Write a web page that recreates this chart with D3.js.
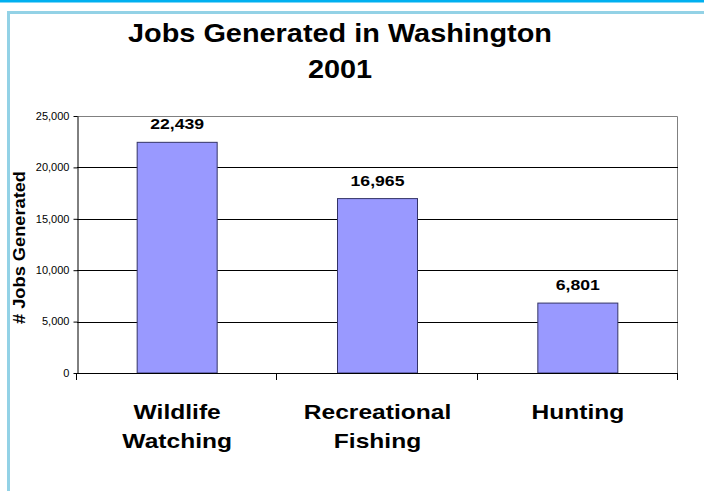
<!DOCTYPE html>
<html>
<head>
<meta charset="utf-8">
<script src="https://cdn.jsdelivr.net/npm/d3@7"></script>
<style>
  body { margin: 0; background: #fff; }
  svg { display: block; font-family: "Liberation Sans", Arial, sans-serif; }
</style>
</head>
<body>
<svg id="canvas" width="704" height="491"></svg>
<script>
'use strict';

/* values */
const categories = ['Wildlife Watching', 'Recreational Fishing', 'Hunting'];
const categoryLines = [['Wildlife', 'Watching'], ['Recreational', 'Fishing'], ['Hunting']];
const jobs = [22439, 16965, 6801];
const yTicks = [0, 5000, 10000, 15000, 20000, 25000];
const titleLines = ['Jobs Generated in Washington', '2001'];
const yTitle = '# Jobs Generated';

const FONT = '"Liberation Sans", Arial, sans-serif';
const svg = d3.select('svg#canvas');
const plot = {left: 77, right: 678, top: 116, bottom: 373};
/* the original glyphs are drawn a bit wider than Liberation Sans */
const WIDE = 1.26;

/* page decoration: top blue rule and light blue frame */
svg.append('rect').attr('x', 0).attr('y', 0).attr('width', 704).attr('height', 2.5)
  .attr('fill', '#00b0f0');
svg.append('path')
  .attr('d', 'M8.5,491 V12.5 H704')
  .attr('fill', 'none').attr('stroke', '#93d2e6').attr('stroke-width', 3);

/* scales */
let x = d3.scaleBand().domain(categories).range([plot.left, plot.right]);
let y = d3.scaleLinear().domain([0, 25000]).range([plot.bottom, plot.top]);
const barW = 80;

/* plot frame (top/right in gray) */
svg.append('path')
  .attr('d', `M${plot.left},${plot.top + 0.5} H${plot.right - 0.5} V${plot.bottom}`)
  .attr('fill', 'none').attr('stroke', '#808080').attr('stroke-width', 1);

/* gridlines */
svg.append('g').selectAll('line')
  .data(yTicks.filter(d => d > 0 && d < 25000))
  .join('line')
  .attr('x1', plot.left).attr('x2', plot.right)
  .attr('y1', d => Math.round(y(d)) + 0.5).attr('y2', d => Math.round(y(d)) + 0.5)
  .attr('stroke', '#000').attr('stroke-width', 1);

/* bars */
svg.append('g').selectAll('rect')
  .data(jobs)
  .join('rect')
  .attr('x', (d, i) => x(categories[i]) + x.bandwidth() / 2 - barW / 2)
  .attr('y', d => y(d))
  .attr('width', barW)
  .attr('height', d => y(0) - y(d))
  .attr('fill', '#9999ff')
  .attr('stroke', '#333366').attr('stroke-width', 1);

/* value labels */
svg.append('g').selectAll('text')
  .data(jobs)
  .join('text')
  .attr('transform', (d, i) =>
    `translate(${x(categories[i]) + x.bandwidth() / 2},${y(d) - 13}) scale(${WIDE},1)`)
  .attr('text-anchor', 'middle')
  .attr('font-size', 14).attr('font-weight', 'bold')
  .text(d => d3.format(',')(d));

/* y axis */
let yAxis = d3.axisLeft(y).tickValues(yTicks).tickSize(4).tickSizeOuter(0)
  .tickFormat(d3.format(','));
let gy = svg.append('g')
  .attr('transform', `translate(${plot.left + 0.5},0)`)
  .call(yAxis);
gy.select('.domain').attr('stroke', '#000');
gy.selectAll('.tick text').attr('font-size', 10.5).attr('font-family', FONT)
  .attr('fill', '#000').attr('x', 0)
  .attr('transform', 'translate(-8,0) scale(1.05,1)');

/* x axis: ticks at category boundaries */
svg.append('line')
  .attr('x1', plot.left).attr('x2', plot.right)
  .attr('y1', plot.bottom + 0.5).attr('y2', plot.bottom + 0.5)
  .attr('stroke', '#000');
let bounds = categories.map(c => x(c)).concat([plot.right]);
svg.append('g').selectAll('line')
  .data(bounds)
  .join('line')
  .attr('x1', d => Math.round(d) - 0.5).attr('x2', d => Math.round(d) - 0.5)
  .attr('y1', plot.bottom).attr('y2', plot.bottom + 7)
  .attr('stroke', '#000');

/* category labels */
let cat = svg.append('g').selectAll('text')
  .data(categories)
  .join('text')
  .attr('transform', d => `translate(${x(d) + x.bandwidth() / 2},419) scale(${WIDE},1)`)
  .attr('text-anchor', 'middle')
  .attr('font-size', 19.5).attr('font-weight', 'bold');
cat.selectAll('tspan')
  .data((d, i) => categoryLines[i])
  .join('tspan')
  .attr('x', 0)
  .attr('dy', (d, i) => i === 0 ? 0 : 29)
  .text(d => d);

/* title */
svg.append('g').selectAll('text')
  .data(titleLines)
  .join('text')
  .attr('transform', (d, i) => `translate(340,${42 + i * 36}) scale(1.09,1)`)
  .attr('text-anchor', 'middle')
  .attr('font-size', 26.5).attr('font-weight', 'bold')
  .text(d => d);

/* y axis title */
svg.append('text')
  .attr('transform', `translate(25,${(plot.top + plot.bottom) / 2 + 3}) rotate(-90) scale(1.14,1)`)
  .attr('text-anchor', 'middle')
  .attr('font-size', 16).attr('font-weight', 'bold')
  .text(yTitle);
</script>
</body>
</html>
